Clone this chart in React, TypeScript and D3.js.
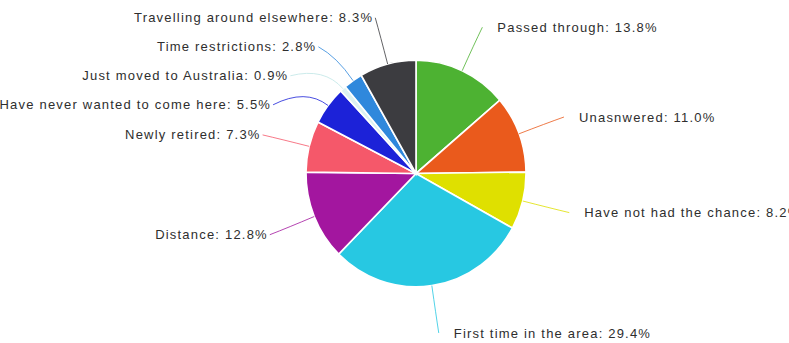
import React from "react";
import * as d3 from "d3";

const categories = [
  "Passed through",
  "Unasnwered",
  "Have not had the chance",
  "First time in the area",
  "Distance",
  "Newly retired",
  "Have never wanted to come here",
  "Just moved to Australia",
  "Time restrictions",
  "Travelling around elsewhere",
];
const values = [13.8, 11.0, 8.2, 29.4, 12.8, 7.3, 5.5, 0.9, 2.8, 8.3];
const colors = [
  "#4db232",
  "#ea5a1c",
  "#dfe000",
  "#27c8e2",
  "#a3169f",
  "#f5586a",
  "#1c22d8",
  "#dcf2f2",
  "#2f88dc",
  "#3c3c40",
];

const W = 789;
const H = 343;
const CX = 416;
const CY = 173.5;
const R = 110;
const SY = 1.03;
const LR = 158;
const LSY = 1.02;
const MIN_GAP = 29;

export default function App() {
  const pie = d3.pie<number>().value((d) => d).sort(null);
  const arcs = pie(values);
  const arcGen = d3.arc<d3.PieArcDatum<number>>().innerRadius(0).outerRadius(R);

  type L = { i: number; mid: number; side: number; x: number; y: number };
  const labels: L[] = arcs.map((a, i) => {
    const mid = (a.startAngle + a.endAngle) / 2;
    return {
      i,
      mid,
      side: Math.sin(mid) >= 0 ? 1 : -1,
      x: CX + Math.sin(mid) * LR,
      y: CY - Math.cos(mid) * LR * LSY,
    };
  });

  // simple overlap resolution on each side (push downward)
  [1, -1].forEach((side) => {
    const group = labels.filter((l) => l.side === side).sort((a, b) => a.y - b.y);
    for (let k = 1; k < group.length; k++) {
      if (group[k].y - group[k - 1].y < MIN_GAP) {
        group[k].y = group[k - 1].y + MIN_GAP;
        const dy = (group[k].y - CY) / LSY;
        const dx = Math.sqrt(Math.max(LR * LR - dy * dy, 0));
        group[k].x = CX + side * dx;
      }
    }
  });

  return (
    <svg
      width={W}
      height={H}
      style={{ position: "fixed", left: 0, top: 0, background: "#fff" }}
      fontFamily="'Liberation Sans', Arial, sans-serif"
    >
      <g transform={`translate(${CX},${CY}) scale(1,${SY})`}>
        {arcs.map((a, i) => (
          <path
            key={categories[i]}
            d={arcGen(a) || ""}
            fill={colors[i]}
            stroke="#ffffff"
            strokeWidth={1.6}
          />
        ))}
      </g>
      {labels.map((l) => {
        const sx = CX + Math.sin(l.mid) * R;
        const sy = CY - Math.cos(l.mid) * R * SY;
        const cx = CX + Math.sin(l.mid) * (R + 28);
        const cy = CY - Math.cos(l.mid) * (R + 28) * SY;
        const path = d3.path();
        path.moveTo(sx, sy);
        path.quadraticCurveTo(cx, cy, l.x, l.y);
        const tx = l.side > 0 ? l.x + 15 : l.x - 2;
        return (
          <g key={"lab" + l.i}>
            <path
              d={path.toString()}
              fill="none"
              stroke={colors[l.i] === "#dcf2f2" ? "#bfe6e6" : colors[l.i]}
              strokeWidth={1}
              opacity={0.8}
            />
            <text
              x={tx}
              y={l.y}
              dy="0.35em"
              textAnchor={l.side > 0 ? "start" : "end"}
              fontSize={13}
              letterSpacing={1.2}
              fill="#2e2e2e"
            >
              {`${categories[l.i]}: ${values[l.i].toFixed(1)}%`}
            </text>
          </g>
        );
      })}
    </svg>
  );
}
